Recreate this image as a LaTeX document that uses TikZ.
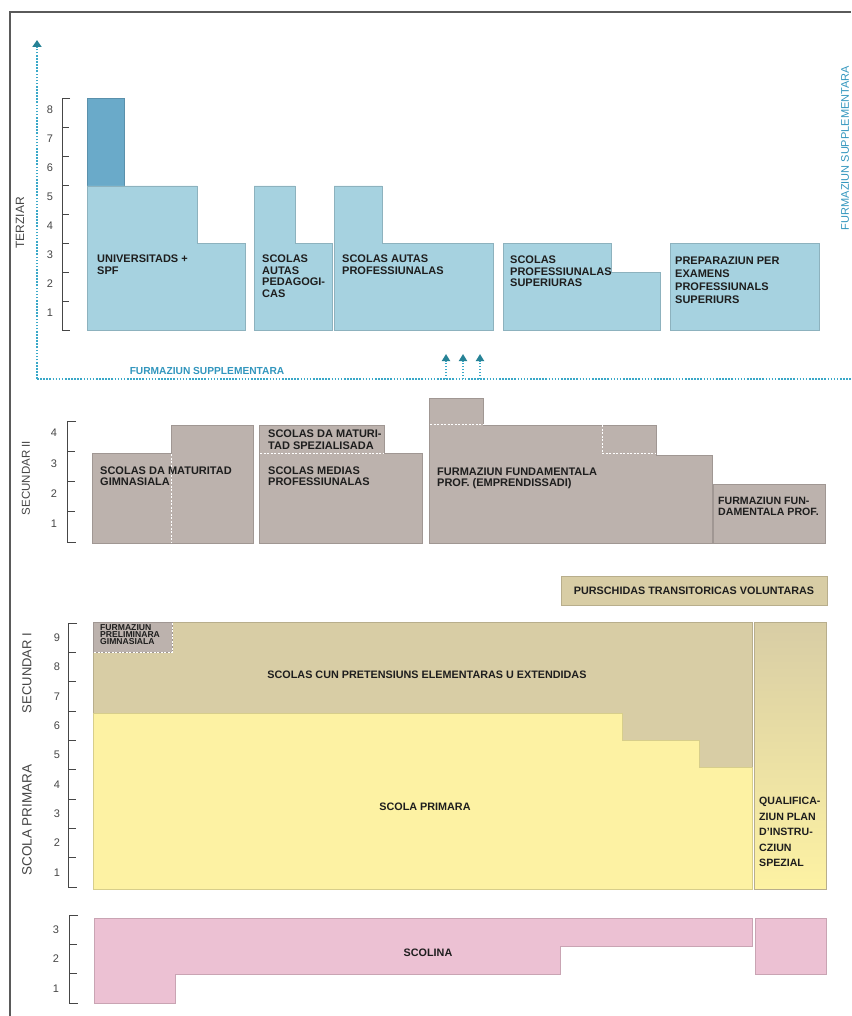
\documentclass[tikz,border=0pt]{standalone}
\usepackage{fontspec}
\setmainfont{Liberation Sans}
\usetikzlibrary{arrows.meta}

\definecolor{terzblue}{RGB}{166,210,224}
\definecolor{unidark}{RGB}{106,170,201}
\definecolor{secgrey}{RGB}{188,178,173}
\definecolor{tan}{RGB}{216,205,165}
\definecolor{primyellow}{RGB}{253,242,163}
\definecolor{scolpink}{RGB}{236,193,211}
\definecolor{dotblue}{RGB}{58,168,200}
\definecolor{furmblue}{RGB}{50,150,190}
\definecolor{arrowteal}{RGB}{38,130,150}
\definecolor{textgrey}{RGB}{30,30,30}
\definecolor{axisgrey}{RGB}{70,70,70}
\definecolor{framegrey}{RGB}{90,90,90}

\begin{document}
\begin{tikzpicture}[x=1pt, y=-1pt,
    every node/.style={inner sep=0pt, text=textgrey},
    box/.style={fill=#1, draw=#1!85!black, line width=0.5pt},
    boxtext/.style={font=\fontsize{11}{11.5}\selectfont\bfseries, align=left, anchor=north west},
    scaletext/.style={font=\fontsize{11}{11}\selectfont, text=axisgrey},
    stagetext/.style={rotate=90, text=axisgrey},
    axis/.style={draw=axisgrey, line width=0.8pt},
    sep/.style={draw=white, line width=0.8pt, dash pattern=on 2pt off 1.5pt},
    dots/.style={draw=dotblue, line width=2.4pt, dash pattern=on 1.6pt off 1.5pt},
    uptip/.style={-{Triangle[width=9pt,length=7pt,color=arrowteal]}}
]
\useasboundingbox (0,0) rectangle (851,1016);
\fill[white] (0,0) rectangle (851,1016);

% frame
\draw[framegrey, line width=2pt] (10,1016) -- (10,12) -- (851,12);

% furmaziun supplementara axes
\coordinate (origin) at (37,379);
\coordinate (axtop) at (37,40);
\coordinate (axright) at (851,379);
\draw[dots] (origin) -- (axright);
\draw[dots, uptip] (origin) -- (axtop);
\node[font=\fontsize{10.2}{10}\selectfont\bfseries, text=furmblue] (furmH) at (207,371) {FURMAZIUN SUPPLEMENTARA};
\node[rotate=90, font=\fontsize{11}{11}\selectfont, text=furmblue] (furmV) at (845,148) {FURMAZIUN SUPPLEMENTARA};

% passage arrows
\foreach \x [count=\i] in {446,463,480} {
  \coordinate (pfrom\i) at (\x,379);
  \coordinate (pto\i) at (\x,354);
  \draw[draw=dotblue, line width=1.8pt, dash pattern=on 1.4pt off 1.6pt, -{Triangle[width=8pt,length=7pt,color=arrowteal]}] (pfrom\i) -- (pto\i);
}

% ---------- terziar ----------
\draw[axis] (70,98) -- (62,98) -- (62,330) -- (70,330);
\foreach \k in {1,...,7} \draw[axis] (62,{330-29*\k}) -- (69,{330-29*\k});
\foreach \k in {1,...,8} \node[scaletext] (terz\k) at (50,{330-29*\k+11.5}) {\k};
\node[stagetext, font=\fontsize{12}{12}\selectfont] (terziar) at (20,223) {TERZIAR};

\draw[box=unidark] (87,98) rectangle (124,186);
\draw[box=terzblue] (87,186) -- (197,186) -- (197,243) -- (245,243) -- (245,330) -- (87,330) -- cycle;
\draw[box=terzblue] (254,186) -- (295,186) -- (295,243) -- (332,243) -- (332,330) -- (254,330) -- cycle;
\draw[box=terzblue] (334,186) -- (382,186) -- (382,243) -- (493,243) -- (493,330) -- (334,330) -- cycle;
\draw[box=terzblue] (503,243) -- (611,243) -- (611,272) -- (660,272) -- (660,330) -- (503,330) -- cycle;
\draw[box=terzblue] (670,243) rectangle (819,330);

\node[boxtext] (uni) at (97,255) {UNIVERSITADS +\\SPF};
\node[boxtext] (ped) at (262,255) {SCOLAS\\AUTAS\\PEDAGOGI-\\CAS};
\node[boxtext] (prof) at (342,255) {SCOLAS AUTAS\\PROFESSIUNALAS};
\node[boxtext] (sup) at (510,256) {SCOLAS\\PROFESSIUNALAS\\SUPERIURAS};
\node[boxtext, font=\fontsize{11}{12.8}\selectfont\bfseries] (prep) at (675,257) {PREPARAZIUN PER\\EXAMENS\\PROFESSIUNALS\\SUPERIURS};

% ---------- secundar II ----------
\draw[axis] (76,421) -- (67,421) -- (67,542) -- (76,542);
\foreach \k in {1,2,3} \draw[axis] (67,{542-30.25*\k}) -- (75,{542-30.25*\k});
\foreach \k in {1,...,4} \node[scaletext] (secb\k) at (54,{542-30.25*\k+12}) {\k};
\node[stagetext, font=\fontsize{11.5}{11.5}\selectfont] (secundarII) at (26,478) {SECUNDAR II};

\draw[box=secgrey] (92,453) -- (171,453) -- (171,425) -- (253,425) -- (253,543) -- (92,543) -- cycle;
\draw[sep] (171,454) -- (171,543);
\draw[box=secgrey] (259,425) -- (384,425) -- (384,453) -- (422,453) -- (422,543) -- (259,543) -- cycle;
\draw[sep] (260,453) -- (384,453);
\draw[box=secgrey] (429,398) -- (483,398) -- (483,425) -- (656,425) -- (656,455) -- (712,455) -- (712,543) -- (429,543) -- cycle;
\draw[sep] (430,424) -- (483,424);
\draw[sep] (602,425) -- (602,453) -- (656,453);
\draw[box=secgrey] (713,484) rectangle (825,543);

\node[boxtext, font=\fontsize{11}{10.8}\selectfont\bfseries] (gim) at (100,467) {SCOLAS DA MATURITAD\\GIMNASIALA};
\node[boxtext] (spez) at (268,430) {SCOLAS DA MATURI-\\TAD SPEZIALISADA};
\node[boxtext, font=\fontsize{11}{10.8}\selectfont\bfseries] (med) at (268,467) {SCOLAS MEDIAS\\PROFESSIUNALAS};
\node[boxtext, font=\fontsize{11}{10.8}\selectfont\bfseries] (empr) at (437,468) {FURMAZIUN FUNDAMENTALA\\PROF. (EMPRENDISSADI)};
\node[boxtext, font=\fontsize{10.6}{11.5}\selectfont\bfseries] (fund) at (718,497) {FURMAZIUN FUN-\\DAMENTALA PROF.};

\draw[box=tan] (561,576) rectangle (827,605);
\node[font=\fontsize{10.8}{10.8}\selectfont\bfseries] (pursch) at (694,591) {PURSCHIDAS TRANSITORICAS VOLUNTARAS};

% ---------- secundar I / scola primara ----------
\draw[axis] (77,623) -- (68,623) -- (68,887) -- (77,887);
\foreach \k in {1,...,8} \draw[axis] (68,{887-29.33*\k}) -- (76,{887-29.33*\k});
\foreach \k in {1,...,9} \node[scaletext] (obl\k) at (57,{887-29.33*\k+14.7}) {\k};
\node[stagetext, font=\fontsize{13}{13}\selectfont] (secundarI) at (27,673) {SECUNDAR I};
\node[stagetext, font=\fontsize{13.5}{13.5}\selectfont] (primara) at (27,820) {SCOLA PRIMARA};

\draw[box=tan] (93,622) -- (752,622) -- (752,767) -- (699,767) -- (699,740) -- (622,740) -- (622,713) -- (93,713) -- cycle;
\draw[box=primyellow] (93,713) -- (622,713) -- (622,740) -- (699,740) -- (699,767) -- (752,767) -- (752,889) -- (93,889) -- cycle;
\draw[box=secgrey] (93,622) rectangle (172,652);
\draw[sep] (172,623) -- (172,652) -- (94,652);
\shade[top color=tan, middle color=primyellow, bottom color=primyellow] (754,622) rectangle (826,889);
\draw[draw=tan!85!black, line width=0.5pt] (754,622) rectangle (826,889);

\node[boxtext, font=\fontsize{8.6}{7.4}\selectfont\bfseries] (prelim) at (100,624) {FURMAZIUN\\PRELIMINARA\\GIMNASIALA};
\node[font=\fontsize{10.8}{10.8}\selectfont\bfseries] (sek) at (427,675) {SCOLAS CUN PRETENSIUNS ELEMENTARAS U EXTENDIDAS};
\node[font=\fontsize{10.8}{10.8}\selectfont\bfseries] (prim) at (425,807) {SCOLA PRIMARA};
\node[boxtext, font=\fontsize{10.6}{15.5}\selectfont\bfseries] (qual) at (759,797) {QUALIFICA-\\ZIUN PLAN\\D'INSTRU-\\CZIUN\\SPEZIAL};

% ---------- scolina ----------
\draw[axis] (78,915) -- (69,915) -- (69,1003) -- (78,1003);
\foreach \k in {1,2} \draw[axis] (69,{1003-29.33*\k}) -- (77,{1003-29.33*\k});
\foreach \k in {1,2,3} \node[scaletext] (scol\k) at (56,{1003-29.33*\k+14.7}) {\k};

\draw[box=scolpink] (94,918) -- (752,918) -- (752,946) -- (560,946) -- (560,974) -- (175,974) -- (175,1003) -- (94,1003) -- cycle;
\draw[box=scolpink] (755,918) rectangle (826,974);
\node[font=\fontsize{10.8}{10.8}\selectfont\bfseries] (scolina) at (428,953) {SCOLINA};
\end{tikzpicture}
\end{document}
